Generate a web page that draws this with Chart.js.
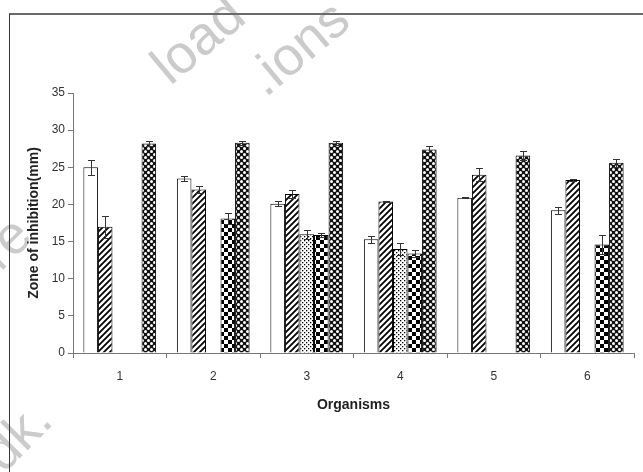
<!DOCTYPE html>
<html>
<head>
<meta charset="utf-8">
<script src="https://cdn.jsdelivr.net/npm/chart.js@4.4.1/dist/chart.umd.min.js"></script>
<style>
  html, body { margin: 0; padding: 0; background: #fff; }
  #wrap { position: relative; width: 643px; height: 472px; overflow: hidden; background: #fff; }
  #frame { position: absolute; left: 9px; top: 13px; width: 700px; height: 500px;
           border-top: 2px solid #6a6a6a; border-left: 1px solid #333; box-sizing: border-box; }
  .wm { position: absolute; font-family: "Liberation Sans", Arial, sans-serif; font-size: 54px;
        color: #cbcbcb; transform-origin: center center; white-space: nowrap; line-height: 1; }
  canvas { position: absolute; left: 0; top: 0; }
</style>
</head>
<body>
<div id="wrap">
  <div class="wm" style="left:146px; top:12px; transform: rotate(-40deg);">load</div>
  <div class="wm" style="left:240px; top:20px; transform: rotate(-40deg);">.ions</div>
  <div class="wm" style="left:-20px; top:215px; transform: rotate(-45deg);">re</div>
  <div class="wm" style="left:-20px; top:408px; transform: rotate(-45deg);">dk.</div>
  <div id="frame"></div>
  <canvas id="c" width="643" height="472"></canvas>
</div>
<script>
// ---- data ----
const categories = ['1', '2', '3', '4', '5', '6'];
const seriesWhite   = [25.0, 23.5, 20.1, 15.3, 20.9, 19.2];
const errWhite      = [1.0, 0.3, 0.3, 0.45, 0.1, 0.5];
const seriesHatch   = [17.0, 22.0, 21.4, 20.4, 24.0, 23.3];
const errHatch      = [1.5, 0.5, 0.6, 0.1, 0.9, 0.1];
const seriesDot     = [null, null, 16.0, 14.0, null, null];
const errDot        = [0, 0, 0.6, 0.8, 0, 0];
const seriesChecker = [null, 18.1, 15.9, 13.4, null, 14.6];
const errChecker    = [0, 0.8, 0.3, 0.5, 0, 1.3];
const seriesCross   = [28.2, 28.3, 28.3, 27.4, 26.6, 25.6];
const errCross      = [0.3, 0.3, 0.3, 0.4, 0.6, 0.5];
const yTicks = [0, 5, 10, 15, 20, 25, 30, 35];
const xTitle = 'Organisms';
const yTitle = 'Zone of inhibition(mm)';

// ---- patterns ----
function makePattern(size, draw) {
  const c = document.createElement('canvas');
  c.width = size; c.height = size;
  const g = c.getContext('2d');
  draw(g, size);
  return document.getElementById('c').getContext('2d').createPattern(c, 'repeat');
}
const patHatch = makePattern(6, (g, s) => {
  g.fillStyle = '#fff'; g.fillRect(0, 0, s, s);
  g.strokeStyle = '#000'; g.lineWidth = 1.8;
  g.beginPath();
  g.moveTo(-1, s + 1); g.lineTo(s + 1, -1);
  g.moveTo(-1, 1); g.lineTo(1, -1);
  g.moveTo(s - 1, s + 1); g.lineTo(s + 1, s - 1);
  g.stroke();
});
const patDot = makePattern(4, (g, s) => {
  g.fillStyle = '#fff'; g.fillRect(0, 0, s, s);
  g.fillStyle = '#000';
  g.fillRect(0, 0, 1.3, 1.3);
  g.fillRect(2, 2, 1.3, 1.3);
});
const patChecker = makePattern(8, (g, s) => {
  g.fillStyle = '#fff'; g.fillRect(0, 0, s, s);
  g.fillStyle = '#000';
  g.fillRect(0, 0, 4, 4);
  g.fillRect(4, 4, 4, 4);
});
const patCross = makePattern(6, (g, s) => {
  g.fillStyle = '#111'; g.fillRect(0, 0, s, s);
  g.fillStyle = '#fff';
  g.beginPath(); g.arc(1.5, 1.5, 1.5, 0, Math.PI * 2); g.fill();
  g.beginPath(); g.arc(4.5, 4.5, 1.5, 0, Math.PI * 2); g.fill();
});

const errors = [errWhite, errHatch, errDot, errChecker, errCross];

const errorBarPlugin = {
  id: 'errorBars',
  afterDatasetsDraw(chart) {
    const ctx = chart.ctx;
    const ys = chart.scales.y;
    ctx.save();
    ctx.strokeStyle = '#333';
    ctx.lineWidth = 1;
    chart.data.datasets.forEach((ds, i) => {
      const meta = chart.getDatasetMeta(i);
      meta.data.forEach((el, j) => {
        const v = ds.data[j];
        const e = errors[i][j];
        if (v === null || v === undefined || !e) return;
        const x = Math.round(el.x) + 0.5;
        const yt = Math.round(ys.getPixelForValue(v + e)) + 0.5;
        const yb = Math.round(ys.getPixelForValue(v - e)) + 0.5;
        ctx.beginPath();
        ctx.moveTo(x, yt); ctx.lineTo(x, yb);
        ctx.moveTo(x - 3.5, yt); ctx.lineTo(x + 3.5, yt);
        ctx.moveTo(x - 3.5, yb); ctx.lineTo(x + 3.5, yb);
        ctx.stroke();
      });
    });
    ctx.restore();
  }
};

const titlePlugin = {
  id: 'axisTitles',
  afterDraw(chart) {
    const ctx = chart.ctx;
    const a = chart.chartArea;
    ctx.save();
    ctx.fillStyle = '#222';
    ctx.font = 'bold 14px "Liberation Sans", Arial, sans-serif';
    ctx.textAlign = 'center';
    ctx.textBaseline = 'middle';
    ctx.fillText(xTitle, (a.left + a.right) / 2, 405);
    ctx.translate(34, (a.top + a.bottom) / 2);
    ctx.rotate(-Math.PI / 2);
    ctx.fillText(yTitle, 0, 0);
    ctx.restore();
  }
};

function ds(label, data, fill) {
  return { label, data, backgroundColor: fill, borderColor: '#000', borderWidth: 1,
           borderSkipped: 'bottom', categoryPercentage: 0.778, barPercentage: 1.0 };
}

new Chart(document.getElementById('c'), {
  type: 'bar',
  data: {
    labels: categories,
    datasets: [
      ds('Series 1', seriesWhite, '#fff'),
      ds('Series 2', seriesHatch, patHatch),
      ds('Series 3', seriesDot, patDot),
      ds('Series 4', seriesChecker, patChecker),
      ds('Series 5', seriesCross, patCross)
    ]
  },
  options: {
    responsive: false,
    animation: false,
    devicePixelRatio: 1,
    layout: { padding: { left: 0, top: 93, right: 9, bottom: 0 } },
    plugins: { legend: { display: false }, tooltip: { enabled: false } },
    scales: {
      x: {
        afterFit(s) { s.height = 119; },
        grid: { drawOnChartArea: false, tickLength: 5, color: '#777', offset: true },
        border: { color: '#777', width: 1 },
        ticks: { color: '#333', padding: 11, font: { family: '"Liberation Sans", Arial, sans-serif', size: 12 } }
      },
      y: {
        min: 0, max: 35,
        afterFit(s) { s.width = 73; },
        afterBuildTicks(s) { s.ticks = yTicks.map(v => ({ value: v })); },
        grid: { drawOnChartArea: false, tickLength: 5, color: '#777' },
        border: { color: '#777', width: 1 },
        ticks: { color: '#333', padding: 3, font: { family: '"Liberation Sans", Arial, sans-serif', size: 12 } }
      }
    }
  },
  plugins: [errorBarPlugin, titlePlugin]
});
</script>
</body>
</html>
